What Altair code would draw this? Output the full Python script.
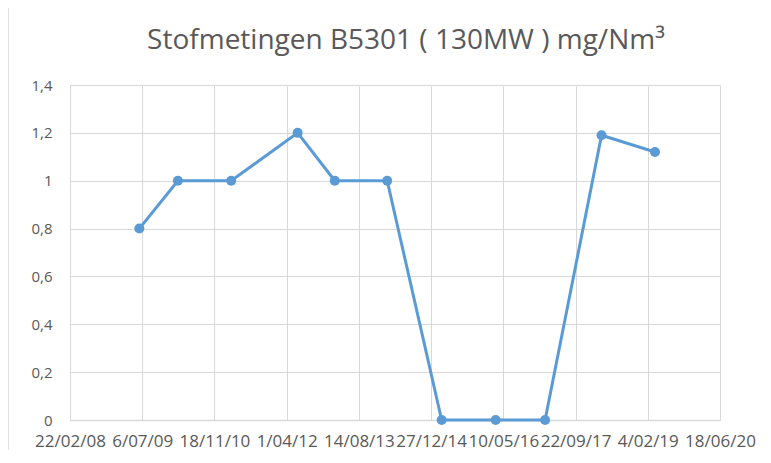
import altair as alt
import pandas as pd

dates = ["2009-06-16", "2010-03-10", "2011-03-14", "2012-06-16", "2013-02-28",
         "2014-02-26", "2015-03-10", "2016-03-18", "2017-02-23", "2018-03-21",
         "2019-03-26"]
values = [0.8, 1.0, 1.0, 1.2, 1.0, 1.0, 0.0, 0.0, 0.0, 1.19, 1.12]

# Axis tick dates (Excel date axis, 500-day major unit)
tick_dates = ["2008-02-22", "2009-07-06", "2010-11-18", "2012-04-01", "2013-08-14",
              "2014-12-27", "2016-05-10", "2017-09-22", "2019-02-04", "2020-06-18"]
y_ticks = [0, 0.2, 0.4, 0.6, 0.8, 1.0, 1.2, 1.4]

title = "Stofmetingen B5301 ( 130MW ) mg/Nm³"

df = pd.DataFrame({"date": pd.to_datetime(dates), "value": values})
tick_ms = [int(pd.Timestamp(d, tz="UTC").timestamp() * 1000) for d in tick_dates]

FONT = "Open Sans"
TXT = "#595959"
GRID = "#d9d9d9"
BLUE = "#5b9bd5"

x = alt.X(
    "date:T",
    scale=alt.Scale(type="utc", domain=[tick_ms[0], tick_ms[-1]], nice=False),
    axis=alt.Axis(
        values=tick_ms,
        labelExpr="utcFormat(datum.value, '%-d/%m/%y')",
        title=None,
        grid=True,
        gridColor=GRID,
        gridWidth=1,
        ticks=False,
        domain=True,
        domainColor=GRID,
        domainWidth=1.5,
        labelOverlap=False,
        labelFlush=False,
        labelPadding=13,
        labelFont=FONT,
        labelFontSize=17,
        labelColor=TXT,
    ),
)
y = alt.Y(
    "value:Q",
    scale=alt.Scale(domain=[0, 1.4], nice=False),
    axis=alt.Axis(
        values=y_ticks,
        labelExpr="replace(format(datum.value, '~g'), '.', ',')",
        title=None,
        grid=True,
        gridColor=GRID,
        gridWidth=1,
        ticks=False,
        domain=False,
        labelPadding=18,
        labelFont=FONT,
        labelFontSize=15,
        labelColor=TXT,
    ),
)

frame = alt.Chart(pd.DataFrame({"a": [0]})).mark_rect(
    fill=None, stroke=GRID, strokeWidth=1.5
).encode(
    x=alt.value(-62), x2=alt.value(900), y=alt.value(-78), y2=alt.value(600)
)

title_mark = alt.Chart(pd.DataFrame({"t": [title]})).mark_text(
    font=FONT, fontSize=28, color=TXT, align="center", baseline="alphabetic"
).encode(text="t:N", x=alt.value(336), y=alt.value(-36))

line = alt.Chart(df).mark_line(color=BLUE, strokeWidth=3).encode(x=x, y=y)
pts = alt.Chart(df).mark_circle(color=BLUE, size=100, opacity=1).encode(x="date:T", y="value:Q")

chart = alt.layer(frame, title_mark, line, pts).properties(
    width=650,
    height=335,
    autosize=alt.AutoSizeParams(type="none"),
    padding={"left": 62, "top": 77, "right": 40, "bottom": 30},
).configure_view(stroke=None).configure(background="white")

chart.save("out.html", embed_options={"renderer": "svg", "actions": False})
